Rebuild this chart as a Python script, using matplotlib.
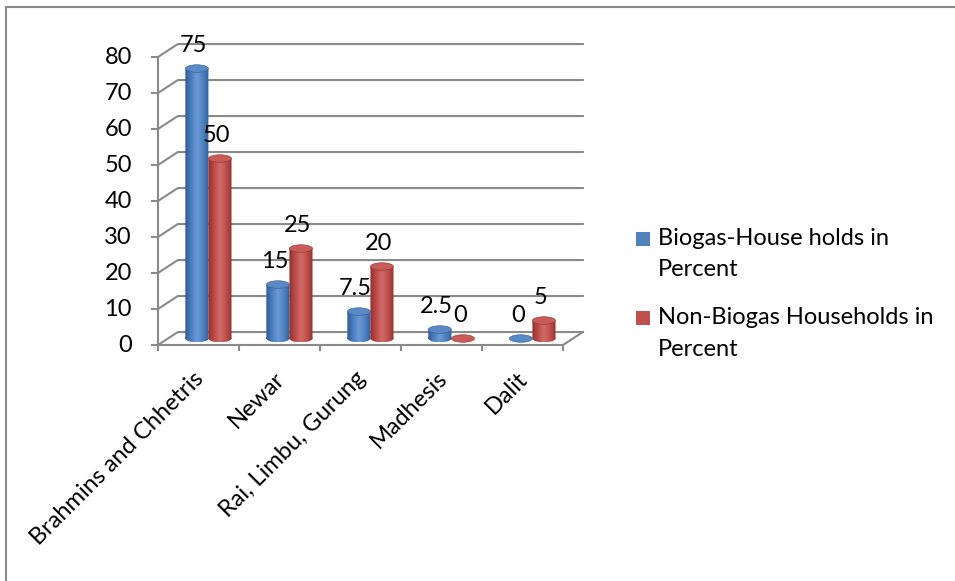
import numpy as np
import matplotlib
matplotlib.use("Agg")
import matplotlib.pyplot as plt
from matplotlib.patches import Ellipse, Rectangle, PathPatch
from matplotlib.path import Path
from matplotlib.transforms import offset_copy, Affine2D
from matplotlib.lines import Line2D
from matplotlib.colors import LinearSegmentedColormap

# ---- data ----
categories = ["Brahmins and Chhetris", "Newar", "Rai, Limbu, Gurung", "Madhesis", "Dalit"]
biogas = [75, 15, 7.5, 2.5, 0]
non_biogas = [50, 25, 20, 0, 5]
series_names = ["Biogas-House holds in\nPercent", "Non-Biogas Households in\nPercent"]
yticks = [0, 10, 20, 30, 40, 50, 60, 70, 80]

# ---- style ----
FONT = "Lato"
FS = 17
GRID = "#8a8a8a"
BLUE_STOPS = ["#2f5c95", "#4a7ebf", "#6c9ad6", "#4f82c2", "#325f98"]
RED_STOPS = ["#8e302e", "#bb4b48", "#d26c69", "#c0504d", "#933532"]
BLUE_TOP, RED_TOP = "#5a89c6", "#c85c59"
LEGEND_COLORS = ["#4f81bd", "#c0504d"]

W, H = 955, 581
fig = plt.figure(figsize=(W / 100, H / 100), dpi=100)
fig.patch.set_facecolor("white")

# front plane of the plot area
ax = fig.add_axes([158 / W, (H - 345) / H, 405 / W, 288 / H])
ax.axis("off")

DX, DY = 0.245, 3.6      # oblique depth offset of the back wall (data units)
BAR_W = 0.285            # cylinder diameter in category units
EH = 1.05                # half height of the cylinder end ellipses (value units)

# walls: gridlines on back wall + left side wall
for v in yticks:
    ax.plot([0, DX, 5 + DX], [v, v + DY, v + DY], color=GRID, lw=1.5,
            clip_on=False, solid_joinstyle="miter", zorder=1)
# floor outline
ax.plot([0, 5, 5 + DX], [0, 0, DY], color=GRID, lw=1.5, clip_on=False,
        solid_joinstyle="miter", zorder=1)
# value axis line and ticks
ax.plot([0, 0], [0, 80], color=GRID, lw=1.5, clip_on=False, zorder=1)
for v in yticks:
    ax.plot([-0.075, 0], [v, v], color=GRID, lw=1.5, clip_on=False, zorder=1)
for i in range(len(categories) + 1):
    ax.plot([i, i], [0, -1.5], color=GRID, lw=1.5, clip_on=False, zorder=1)

# y tick labels
ytrans = offset_copy(ax.transData, fig=fig, x=-26, y=0, units="dots")
for v in yticks:
    ax.text(0, v, str(v), transform=ytrans, ha="right", va="center",
            fontsize=FS, family=FONT, color="black", clip_on=False)


def cylinder(cx, val, stops, top_color, z):
    cmap = LinearSegmentedColormap.from_list("c", stops)
    x0, x1 = cx - BAR_W / 2, cx + BAR_W / 2
    base = DY / 2
    top = val + base
    if val > 0:
        rect = Path.unit_rectangle().transformed(
            Affine2D().scale(BAR_W, top - base).translate(x0, base))
        ell = Path.unit_circle().transformed(
            Affine2D().scale(BAR_W / 2, EH).translate(cx, base))
        body = Path.make_compound_path(rect, ell)
        patch = PathPatch(body, transform=ax.transData, facecolor="none", edgecolor="none")
        grad = np.linspace(0, 1, 64).reshape(1, -1)
        im = ax.imshow(grad, cmap=cmap, extent=[x0, x1, base - EH, top],
                       aspect="auto", origin="lower", zorder=z, interpolation="bilinear")
        im.set_clip_path(patch)
    ax.add_patch(Ellipse((cx, top), BAR_W, 2 * EH, facecolor=top_color,
                         edgecolor=stops[0], lw=0.4, zorder=z + 0.1, clip_on=False))


centers = np.arange(len(categories)) + 0.5 + DX / 2
for i, c in enumerate(centers):
    cylinder(c - BAR_W / 2, biogas[i], BLUE_STOPS, BLUE_TOP, 3)
    cylinder(c + BAR_W / 2, non_biogas[i], RED_STOPS, RED_TOP, 3)

# data labels
for i, c in enumerate(centers):
    for xc, val in ((c - BAR_W / 2, biogas[i]), (c + BAR_W / 2, non_biogas[i])):
        ax.text(xc - 0.04, val + DY / 2 + 6.5, f"{val:g}", ha="center", va="center",
                fontsize=FS, family=FONT, color="black", zorder=6, clip_on=False)

# category labels, rotated 45 degrees
ctrans = offset_copy(ax.transData, fig=fig, x=2, y=-30, units="dots")
for i, name in enumerate(categories):
    ax.text(i + 0.5, 0, name, transform=ctrans, rotation=45, rotation_mode="anchor",
            ha="right", va="center", fontsize=FS, family=FONT, color="black",
            clip_on=False)

ax.set_xlim(0, 5)
ax.set_ylim(0, 80)

# legend
leg_y = [238.5, 317.5]
for k, (name, col) in enumerate(zip(series_names, LEGEND_COLORS)):
    y = leg_y[k]
    fig.patches.append(Rectangle((636 / W, (H - y - 7) / H), 14 / W, 14 / H,
                                 transform=fig.transFigure, facecolor=col,
                                 edgecolor="none"))
    for j, line in enumerate(name.split("\n")):
        fig.text(658 / W, (H - y - 31.5 * j) / H, line, ha="left", va="center",
                 fontsize=FS, family=FONT, color="black")

# chart border
fig.lines.append(Line2D([6 / W, 1], [(H - 7) / H, (H - 7) / H], transform=fig.transFigure,
                        color="#8a8a8a", lw=1.5))
fig.lines.append(Line2D([6 / W, 6 / W], [0, (H - 7) / H], transform=fig.transFigure,
                        color="#8a8a8a", lw=1.5))

fig.savefig("out.png", dpi=100, facecolor="white")
